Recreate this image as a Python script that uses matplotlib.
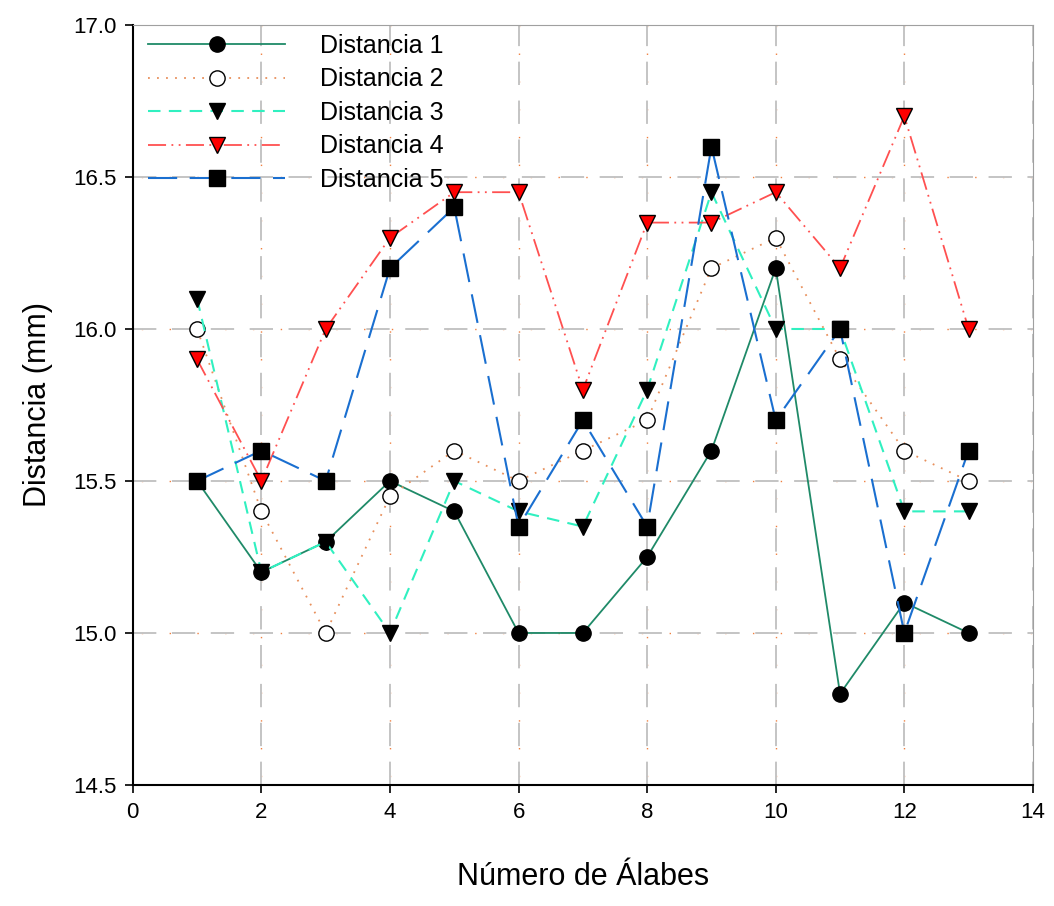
import matplotlib.pyplot as plt
from matplotlib.ticker import FormatStrFormatter

plt.rcParams['font.family'] = ['Liberation Sans', 'DejaVu Sans']

alabes = [1, 2, 3, 4, 5, 6, 7, 8, 9, 10, 11, 12, 13]
dist1 = [15.5, 15.2, 15.3, 15.5, 15.4, 15.0, 15.0, 15.25, 15.6, 16.2, 14.8, 15.1, 15.0]
dist2 = [16.0, 15.4, 15.0, 15.45, 15.6, 15.5, 15.6, 15.7, 16.2, 16.3, 15.9, 15.6, 15.5]
dist3 = [16.1, 15.2, 15.3, 15.0, 15.5, 15.4, 15.35, 15.8, 16.45, 16.0, 16.0, 15.4, 15.4]
dist4 = [15.9, 15.5, 16.0, 16.3, 16.45, 16.45, 15.8, 16.35, 16.35, 16.45, 16.2, 16.7, 16.0]
dist5 = [15.5, 15.6, 15.5, 16.2, 16.4, 15.35, 15.7, 15.35, 16.6, 15.7, 16.0, 15.0, 15.6]

fig = plt.figure(figsize=(10.54, 9.06), dpi=100)
ax = fig.add_axes([0.126, 0.1336, 0.854, 0.8388])

ax.plot(alabes, dist1, color='#1f8a68', lw=1.3, ls='-', marker='o', ms=11,
        mfc='black', mec='black', label='Distancia 1', zorder=3)
ax.plot(alabes, dist2, color='#e8905c', lw=1.3, ls=(0, (1, 4)), marker='o', ms=11,
        mfc='white', mec='black', label='Distancia 2', zorder=3)
ax.plot(alabes, dist3, color='#30f0c0', lw=1.5, ls=(0, (6, 4)), marker='v', ms=11,
        mfc='black', mec='black', label='Distancia 3', zorder=3)
ax.plot(alabes, dist4, color='#ff5050', lw=1.3, ls=(0, (10, 3, 1, 3, 1, 3)), marker='v', ms=11,
        mfc='red', mec='black', label='Distancia 4', zorder=3)
ax.plot(alabes, dist5, color='#1a6fd0', lw=1.5, ls=(0, (14, 6)), marker='s', ms=11,
        mfc='black', mec='black', label='Distancia 5', zorder=3)

ax.set_xlim(0, 14)
ax.set_ylim(14.5, 17.0)
ax.set_xticks(range(0, 15, 2))
ax.set_yticks([14.5, 15.0, 15.5, 16.0, 16.5, 17.0])
ax.yaxis.set_major_formatter(FormatStrFormatter('%.1f'))

# grid: gray dashes with small orange dots in the gaps
ax.grid(True, color='#c4c4c4', lw=1.4, ls=(0, (12, 8)), zorder=0)
for y in ax.get_yticks()[1:-1]:
    ax.axhline(y, color='#f08040', lw=1.0, ls=(14, (1, 19)), zorder=0)
for x in ax.get_xticks()[1:-1]:
    ax.axvline(x, color='#f08040', lw=1.0, ls=(14, (1, 19)), zorder=0)

for side in ['top', 'right']:
    ax.spines[side].set_color('#a0a0a0')
for side in ['left', 'bottom']:
    ax.spines[side].set_linewidth(1.5)
ax.tick_params(direction='out', length=6, width=1.2, labelsize=16, pad=6)

ax.set_xlabel('Número de Álabes', fontsize=22, labelpad=28)
ax.set_ylabel('Distancia (mm)', fontsize=22, labelpad=14)

ax.legend(loc='upper left', frameon=False, fontsize=18, numpoints=1,
          handlelength=5.5, handletextpad=1.4, labelspacing=0.38,
          borderaxespad=0.2, bbox_to_anchor=(0.0, 1.008))

fig.savefig('out.png', dpi=100)
